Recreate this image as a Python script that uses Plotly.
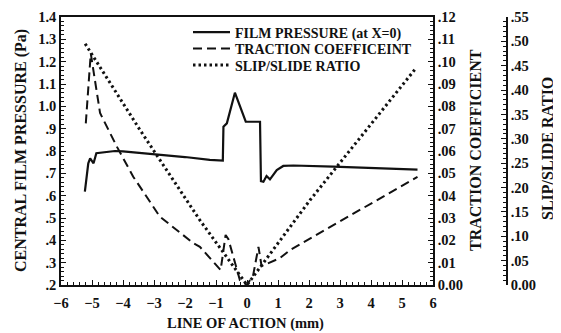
import plotly.graph_objects as go

# ---- data ----
pressure_x = [-5.23, -5.12, -5.06, -5.0, -4.95, -4.86, -4.63, -4.26, -4.0, -3.0, -2.0,
              -1.2, -0.78, -0.76, -0.65, -0.39, -0.12, -0.04, 0.42, 0.45, 0.53, 0.63,
              0.74, 0.96, 1.17, 1.5, 2.78, 4.0, 5.5]
pressure_y = [0.618, 0.745, 0.767, 0.752, 0.745, 0.79, 0.793, 0.80, 0.798, 0.787, 0.773,
              0.76, 0.757, 0.909, 0.924, 1.061, 0.955, 0.931, 0.931, 0.665, 0.662, 0.688,
              0.673, 0.715, 0.733, 0.735, 0.73, 0.725, 0.717]

traction_x = [-5.2, -5.04, -4.74, -4.2, -3.67, -2.81, -1.73, -1.52, -0.85, -0.69, -0.6,
              -0.23, 0.0, 0.2, 0.37, 0.47, 1.06, 1.39, 5.5]
traction_y = [0.0724, 0.1037, 0.077, 0.062, 0.0485, 0.0306, 0.0187, 0.0171, 0.0067, 0.0224,
              0.0205, 0.0022, 0.0, 0.0045, 0.0171, 0.0085, 0.012, 0.0157, 0.0484]

slip_x = [-5.22, -3.45, -1.52, 0.0, 2.03, 3.54, 5.45]
slip_y = [0.495, 0.318, 0.133, 0.0, 0.174, 0.294, 0.445]

x_ticks = [-6, -5, -4, -3, -2, -1, 0, 1, 2, 3, 4, 5, 6]
p_ticks = [0.2, 0.3, 0.4, 0.5, 0.6, 0.7, 0.8, 0.9, 1.0, 1.1, 1.2, 1.3, 1.4]
p_labels = [".2", ".3", ".4", ".5", ".6", ".7", ".8", ".9", "1.0", "1.1", "1.2", "1.3", "1.4"]
t_ticks = [0.0, 0.01, 0.02, 0.03, 0.04, 0.05, 0.06, 0.07, 0.08, 0.09, 0.10, 0.11, 0.12]
t_labels = ["0.00", ".01", ".02", ".03", ".04", ".05", ".06", ".07", ".08", ".09", ".10", ".11", ".12"]
s_ticks = [0.0, 0.05, 0.10, 0.15, 0.20, 0.25, 0.30, 0.35, 0.40, 0.45, 0.50, 0.55]
s_labels = ["0.00", ".05", ".10", ".15", ".20", ".25", ".30", ".35", ".40", ".45", ".50", ".55"]

names = ["FILM PRESSURE (at X=0)", "TRACTION COEFFICEINT", "SLIP/SLIDE RATIO"]
titles = ["CENTRAL FILM PRESSURE (Pa)", "LINE OF ACTION (mm)", "TRACTION COEFFICIENT", "SLIP/SLIDE RATIO"]

# ---- geometry (page body has an 8px margin) ----
FONT = "Liberation Serif"
INK = "#111111"
OFF = 8
W, H = 561 - OFF, 333 - OFF
ML = 61 - OFF
MT = 17 - OFF
MB = H - (285 - OFF)
MR = 40
PW = W - ML - MR
PH = H - MT - MB

def px_x(px):
    return (px - OFF - ML) / PW

def px_y(py):
    return (H - MB - (py - OFF)) / PH

fig = go.Figure()
fig.add_trace(go.Scatter(x=pressure_x, y=pressure_y, mode="lines", name=names[0],
                         line=dict(color=INK, width=2.2), yaxis="y", legend="legend"))
fig.add_trace(go.Scatter(x=traction_x, y=traction_y, mode="lines", name=names[1],
                         line=dict(color=INK, width=2, dash="9px,5px"), yaxis="y2",
                         legend="legend2"))
fig.add_trace(go.Scatter(x=slip_x, y=slip_y, mode="lines", name=names[2],
                         line=dict(color=INK, width=3, dash="2.5px,3px"), yaxis="y3",
                         legend="legend3"))

tickfont = dict(family=FONT, size=14.5, color=INK, weight="bold")
common = dict(showline=True, linecolor=INK, linewidth=1.5, ticks="inside",
              tickcolor=INK, tickwidth=1, showgrid=False, zeroline=False,
              tickfont=tickfont)

legfont = dict(family=FONT, size=14, color=INK, weight="bold")
def leg(py):
    return dict(x=px_x(188), y=px_y(py), xanchor="left", yanchor="middle",
                bgcolor="rgba(0,0,0,0)", borderwidth=0, font=legfont, itemwidth=37)

xd = px_x(433)
fig.update_layout(
    width=W, height=H,
    margin=dict(l=ML, r=MR, t=MT, b=MB, autoexpand=False),
    paper_bgcolor="white", plot_bgcolor="white",
    showlegend=True,
    legend=leg(32.5), legend2=leg(49), legend3=leg(65.5),
    xaxis=dict(range=[-6, 6], domain=[0, xd], tickvals=x_ticks, mirror=True,
               ticklen=5, minor=dict(dtick=0.2, ticklen=3, ticks="inside", tickcolor=INK),
               ticklabelstandoff=4, **common),
    yaxis=dict(range=[0.2, 1.4], tickvals=p_ticks, ticktext=p_labels,
               ticklen=5, minor=dict(dtick=0.02, ticklen=3, ticks="inside", tickcolor=INK),
               **common),
    yaxis2=dict(range=[0, 0.12], tickvals=t_ticks, ticktext=t_labels, overlaying="y",
                side="right", anchor="x",
                ticklen=5, minor=dict(dtick=0.002, ticklen=3, ticks="inside", tickcolor=INK),
                **common),
    yaxis3=dict(range=[0, 0.55], tickvals=s_ticks, ticktext=s_labels, overlaying="y",
                side="right", anchor="free", position=px_x(507),
                ticklen=5, minor=dict(dtick=0.01, ticklen=3, ticks="inside", tickcolor=INK),
                **common),
)

tfont_v = dict(family=FONT, size=16, color=INK, weight="bold")
tfont_h = dict(family=FONT, size=14.5, color=INK, weight="bold")
fig.add_annotation(text=titles[0], xref="paper", yref="paper", x=px_x(21), y=px_y(151),
                   textangle=-90, showarrow=False, font=tfont_v, xanchor="center", yanchor="middle")
fig.add_annotation(text=titles[1], xref="paper", yref="paper", x=px_x(245), y=px_y(323),
                   showarrow=False, font=tfont_h, xanchor="center", yanchor="middle")
fig.add_annotation(text=titles[2], xref="paper", yref="paper", x=px_x(475), y=px_y(150),
                   textangle=-90, showarrow=False, font=tfont_v, xanchor="center", yanchor="middle")
fig.add_annotation(text=titles[3], xref="paper", yref="paper", x=px_x(547), y=px_y(149),
                   textangle=-90, showarrow=False, font=tfont_v, xanchor="center", yanchor="middle")

fig.write_html("out.html")
